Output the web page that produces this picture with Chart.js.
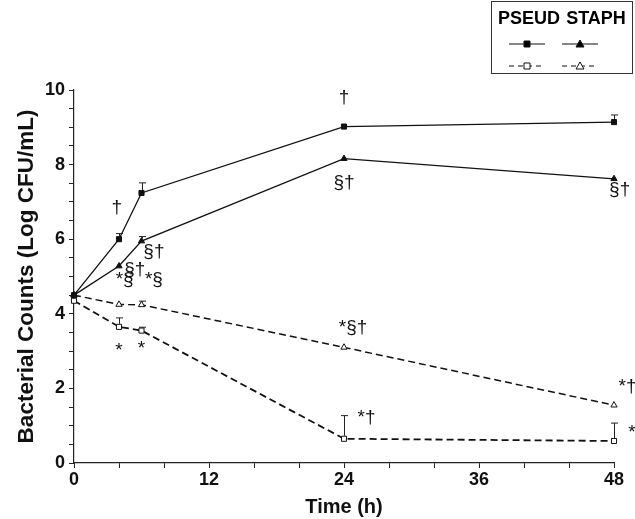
<!DOCTYPE html>
<html>
<head>
<meta charset="utf-8">
<script src="https://cdn.jsdelivr.net/npm/chart.js@4"></script>
<style>
  body { margin: 0; background: #fff; }
  #wrap { width: 635px; height: 519px; position: relative; }
</style>
</head>
<body>
<div id="wrap"><canvas id="myChart"></canvas></div>
<script>
// sampling times (h)
var times = [0, 4, 6, 24, 48];

// log CFU/mL
var pseudSolid = [4.5, 6.0, 7.24, 9.02, 9.14];
var pseudSolidErr = [0, 0.15, 0.27, 0.05, 0.19];
var staphSolid = [4.5, 5.28, 5.95, 8.16, 7.62];
var staphSolidErr = [0, 0.05, 0.12, 0.07, 0.03];
var pseudDashed = [4.35, 3.65, 3.55, 0.65, 0.59];
var pseudDashedErr = [0, 0.24, 0.09, 0.62, 0.48];
var staphDashed = [4.5, 4.25, 4.24, 3.1, 1.55];
var staphDashedErr = [0, 0.03, 0.1, 0.04, 0.07];

var xTickLabels = [0, 12, 24, 36, 48];
var yTickLabels = [0, 2, 4, 6, 8, 10];

// significance marks: text, time, value
var markTexts = ['\u2020', '\u00a7\u2020', '\u00a7\u2020', '*\u00a7', '*\u00a7', '*', '*',
                 '\u2020', '\u00a7\u2020', '*\u00a7\u2020', '*\u2020',
                 '\u00a7\u2020', '*\u2020', '*'];
var markX = [3.8, 7.1, 5.4, 4.5, 7.1, 4.0, 6.0, 24.0, 24.0, 24.8, 26.0, 48.5, 49.2, 49.6];
var markY = [6.84, 5.65, 5.17, 4.9, 4.9, 3.0, 3.05, 9.8, 7.5, 3.62, 1.2, 7.32, 2.05, 0.82];

function toPoints(vals) {
    return vals.map(function (v, i) { return {x: times[i], y: v}; });
}

var errors = [pseudSolidErr, staphSolidErr, pseudDashedErr, staphDashedErr];

var errorBars = {
    id: 'errorBars',
    afterDatasetsDraw: function (chart) {
        var ctx = chart.ctx;
        var xs = chart.scales.x, ys = chart.scales.y;
        ctx.save();
        ctx.strokeStyle = '#222';
        ctx.lineWidth = 1;
        chart.data.datasets.forEach(function (ds, d) {
            ds.data.forEach(function (p, i) {
                var e = errors[d][i];
                if (!e) return;
                var px = Math.round(xs.getPixelForValue(p.x)) + 0.5;
                var y0 = ys.getPixelForValue(p.y) - 3;
                var y1 = ys.getPixelForValue(p.y + e);
                if (y1 > y0) return;
                ctx.beginPath();
                ctx.moveTo(px, y0);
                ctx.lineTo(px, y1);
                ctx.moveTo(px - 3.5, y1);
                ctx.lineTo(px + 3.5, y1);
                ctx.stroke();
            });
        });
        ctx.restore();
    }
};

var extras = {
    id: 'extras',
    afterDraw: function (chart) {
        var ctx = chart.ctx;
        var xs = chart.scales.x, ys = chart.scales.y;
        ctx.save();
        ctx.fillStyle = '#111';
        ctx.textAlign = 'center';
        ctx.textBaseline = 'middle';
        ctx.font = '19px "Liberation Sans", Arial, sans-serif';
        markTexts.forEach(function (t, i) {
            ctx.fillText(t, xs.getPixelForValue(markX[i]), ys.getPixelForValue(markY[i]));
        });

        // legend box
        ctx.strokeStyle = '#333';
        ctx.lineWidth = 1;
        ctx.strokeRect(491.5, 1.5, 141, 72);
        ctx.font = 'bold 18px "Liberation Sans", Arial, sans-serif';
        ctx.fillStyle = '#000';
        ctx.fillText('PSEUD', 529, 19);
        ctx.fillText('STAPH', 596, 19);

        function legLine(x, y, dashed, shape, filled) {
            ctx.beginPath();
            ctx.strokeStyle = '#111';
            ctx.setLineDash(dashed ? [5, 4] : []);
            ctx.lineWidth = 1.2;
            ctx.moveTo(x - 18, y);
            ctx.lineTo(x + 18, y);
            ctx.stroke();
            ctx.setLineDash([]);
            ctx.beginPath();
            if (shape === 'rect') {
                ctx.rect(x - 3, y - 3, 6, 6);
            } else {
                ctx.moveTo(x, y - 4);
                ctx.lineTo(x + 4, y + 3);
                ctx.lineTo(x - 4, y + 3);
                ctx.closePath();
            }
            ctx.fillStyle = filled ? '#000' : '#fff';
            ctx.fill();
            ctx.lineWidth = 1;
            ctx.stroke();
        }
        legLine(527, 44, false, 'rect', true);
        legLine(580, 44, false, 'tri', true);
        legLine(527, 66, true, 'rect', false);
        legLine(580, 66, true, 'tri', false);
        ctx.restore();
    }
};

var fam = '"Liberation Sans", Arial, sans-serif';
var tickFont = {family: fam, size: 18, weight: 'bold'};

var ctx = document.getElementById('myChart').getContext('2d');
var chart = new Chart(ctx, {
    type: 'line',
    data: {
        datasets: [{
            label: 'PSEUD',
            data: toPoints(pseudSolid),
            borderColor: '#111',
            backgroundColor: '#111',
            borderWidth: 1.3,
            pointStyle: 'rect',
            pointRadius: 3.6,
            pointBorderWidth: 1,
            clip: false
        }, {
            label: 'STAPH',
            data: toPoints(staphSolid),
            borderColor: '#111',
            backgroundColor: '#111',
            borderWidth: 1.3,
            pointStyle: 'triangle',
            pointRadius: 3.6,
            pointBorderWidth: 1,
            clip: false
        }, {
            label: 'PSEUD',
            data: toPoints(pseudDashed),
            borderColor: '#111',
            backgroundColor: '#fff',
            borderWidth: 1.8,
            borderDash: [7, 4],
            pointStyle: 'rect',
            pointRadius: 3.6,
            pointBorderWidth: 1,
            clip: false
        }, {
            label: 'STAPH',
            data: toPoints(staphDashed),
            borderColor: '#111',
            backgroundColor: '#fff',
            borderWidth: 1.5,
            borderDash: [7, 4],
            pointStyle: 'triangle',
            pointRadius: 3.6,
            pointBorderWidth: 1,
            clip: false
        }]
    },
    options: {
        responsive: true,
        maintainAspectRatio: false,
        animation: false,
        layout: {padding: {left: 0, top: 90, right: 21, bottom: 0}},
        plugins: {legend: {display: false}, tooltip: {enabled: false}},
        scales: {
            x: {
                type: 'linear',
                min: 0,
                max: 48,
                afterFit: function (scale) { scale.height = 56; },
                border: {color: '#222', width: 1.2},
                grid: {drawOnChartArea: false, drawTicks: true, tickLength: 5, color: '#222'},
                ticks: {
                    stepSize: 4,
                    autoSkip: false,
                    maxRotation: 0,
                    padding: 1,
                    color: '#111',
                    font: tickFont,
                    callback: function (v) { return xTickLabels.indexOf(v) >= 0 ? String(v) : ''; }
                },
                title: {
                    display: true,
                    text: 'Time (h)',
                    color: '#111',
                    font: {family: fam, size: 20, weight: 'bold'},
                    padding: {top: 0, bottom: 0}
                }
            },
            y: {
                min: 0,
                max: 10,
                afterFit: function (scale) { scale.width = 74; },
                border: {color: '#222', width: 1.2},
                grid: {drawOnChartArea: false, drawTicks: true, tickLength: 5, color: '#222'},
                ticks: {
                    stepSize: 0.5,
                    autoSkip: false,
                    padding: 4,
                    color: '#111',
                    font: tickFont,
                    callback: function (v) { return yTickLabels.indexOf(v) >= 0 ? String(v) : ''; }
                },
                title: {
                    display: true,
                    text: 'Bacterial Counts (Log CFU/mL)',
                    color: '#111',
                    font: {family: fam, size: 22.5, weight: 'bold'},
                    padding: {top: 13, bottom: 0}
                }
            }
        }
    },
    plugins: [errorBars, extras]
});
</script>
</body>
</html>
